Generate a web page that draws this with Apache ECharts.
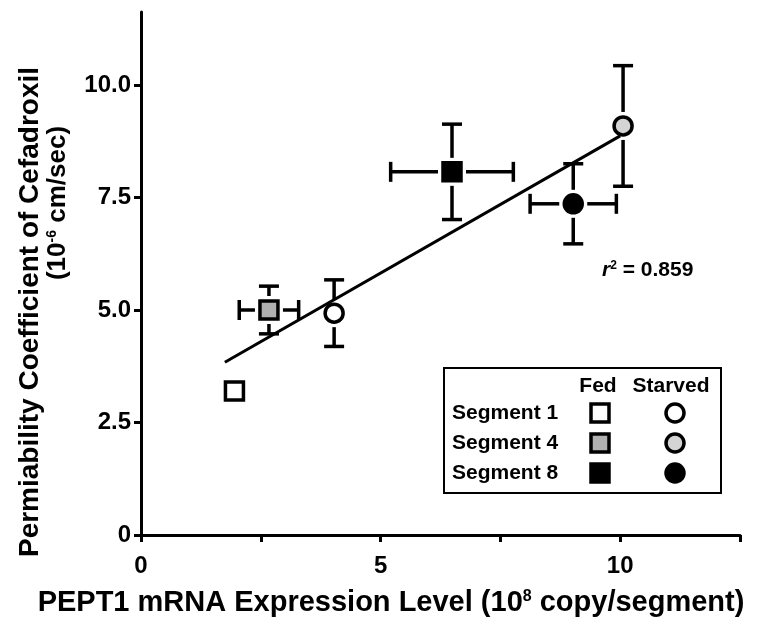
<!DOCTYPE html>
<html><head><meta charset="utf-8">
<script src="https://cdn.jsdelivr.net/npm/echarts@6/dist/echarts.min.js"></script>
<style>html,body{margin:0;padding:0;background:#fff}#c{width:775px;height:619px}</style>
</head><body><div id="c"></div>
<script>
// ---- data ----
const xTickValues = [0, 2.5, 5, 7.5, 10, 12.5];
const xLabelValues = [0, 5, 10];
const yTickValues = [0, 2.5, 5, 7.5, 10];
const yLabelText = ['0', '2.5', '5.0', '7.5', '10.0'];

const groups = ['Segment 1 Fed', 'Segment 1 Starved', 'Segment 4 Fed', 'Segment 4 Starved', 'Segment 8 Fed', 'Segment 8 Starved'];
const mrnaX = [1.95, 4.03, 2.67, 10.06, 6.49, 9.02];
const permY = [3.2, 4.93, 5.0, 9.09, 8.07, 7.36];
const mrnaErr = [0, 0, 0.62, 0, 1.28, 0.9];
const permErr = [0, 0.74, 0.53, 1.34, 1.06, 0.89];
const fitX = [1.75, 10.0];
const fitY = [3.84, 8.87];
const rSquared = '0.859';
const legendRows = ['Segment 1', 'Segment 4', 'Segment 8'];
const legendCols = ['Fed', 'Starved'];

// ---- styles ----
const FONT = '"Liberation Sans", Arial, Helvetica, sans-serif';
const markerStyle = {
  'Segment 1 Fed': { symbol: 'rect', fill: '#ffffff' },
  'Segment 1 Starved': { symbol: 'circle', fill: '#ffffff' },
  'Segment 4 Fed': { symbol: 'rect', fill: '#b0b0b0' },
  'Segment 4 Starved': { symbol: 'circle', fill: '#d4d4d4' },
  'Segment 8 Fed': { symbol: 'rect', fill: '#000000' },
  'Segment 8 Starved': { symbol: 'circle', fill: '#000000' }
};

const chart = echarts.init(document.getElementById('c'), null, { renderer: 'canvas' });

const errData = groups.map((g, i) => [mrnaX[i], permY[i], mrnaErr[i], permErr[i]]);

const scatterSeries = groups.map((g, i) => ({
  name: g,
  type: 'scatter',
  z: 5,
  symbol: markerStyle[g].symbol,
  symbolSize: 18,
  itemStyle: { color: markerStyle[g].fill, borderColor: '#000', borderWidth: 3.5, opacity: 1 },
  data: [[mrnaX[i], permY[i]]]
}));

const option = {
  backgroundColor: '#fff',
  animation: false,
  grid: { left: 141, top: 12, width: 599, height: 523, containLabel: false },
  xAxis: {
    type: 'value', min: 0, max: 12.5, interval: 2.5,
    axisLine: { show: true, onZero: false, lineStyle: { color: '#000', width: 3 } },
    axisTick: { show: true, customValues: xTickValues, length: 7, lineStyle: { color: '#000', width: 3 } },
    axisLabel: { customValues: xLabelValues, margin: 19, color: '#000', fontSize: 24, fontWeight: 'bold', fontFamily: FONT },
    splitLine: { show: false }
  },
  yAxis: {
    type: 'value', min: 0, max: 523 / 45,
    axisLine: { show: true, onZero: false, lineStyle: { color: '#000', width: 3 } },
    axisTick: { show: true, customValues: yTickValues, length: 7, lineStyle: { color: '#000', width: 3 } },
    axisLabel: {
      customValues: yTickValues, margin: 10, color: '#000', fontSize: 24, fontWeight: 'bold', fontFamily: FONT,
      formatter: v => yLabelText[yTickValues.indexOf(v)]
    },
    splitLine: { show: false }
  },
  series: [
    {
      type: 'line', z: 2, symbol: 'none', silent: true,
      lineStyle: { color: '#000', width: 3 },
      data: fitX.map((x, i) => [x, fitY[i]])
    },
    {
      type: 'custom', z: 3, silent: true,
      data: errData,
      renderItem: function (params, api) {
        const x = api.value(0), y = api.value(1), ex = api.value(2), ey = api.value(3);
        const c = api.coord([x, y]);
        const cap = 10, gap = 14;
        const st = { stroke: '#000', lineWidth: 3.5 };
        const ch = [];
        if (ey > 0) {
          const t = api.coord([x, y + ey])[1], b = api.coord([x, y - ey])[1];
          ch.push({ type: 'line', shape: { x1: c[0], y1: t, x2: c[0], y2: c[1] - gap }, style: st });
          ch.push({ type: 'line', shape: { x1: c[0], y1: c[1] + gap, x2: c[0], y2: b }, style: st });
          ch.push({ type: 'line', shape: { x1: c[0] - cap, y1: t, x2: c[0] + cap, y2: t }, style: st });
          ch.push({ type: 'line', shape: { x1: c[0] - cap, y1: b, x2: c[0] + cap, y2: b }, style: st });
        }
        if (ex > 0) {
          const l = api.coord([x - ex, y])[0], r = api.coord([x + ex, y])[0];
          ch.push({ type: 'line', shape: { x1: l, y1: c[1], x2: c[0] - gap, y2: c[1] }, style: st });
          ch.push({ type: 'line', shape: { x1: c[0] + gap, y1: c[1], x2: r, y2: c[1] }, style: st });
          ch.push({ type: 'line', shape: { x1: l, y1: c[1] - cap, x2: l, y2: c[1] + cap }, style: st });
          ch.push({ type: 'line', shape: { x1: r, y1: c[1] - cap, x2: r, y2: c[1] + cap }, style: st });
        }
        return { type: 'group', children: ch };
      }
    }
  ].concat(scatterSeries),
  graphic: []
};

// Titles
const g = option.graphic;
g.push({
  type: 'text', x: 391, y: 603, z: 10,
  style: {
    text: '{a|PEPT1 mRNA Expression Level (10}{s|8}{a| copy/segment)}',
    align: 'center', verticalAlign: 'middle',
    rich: {
      a: { fontSize: 29, fontWeight: 'bold', fontFamily: FONT, fill: '#000' },
      s: { fontSize: 16, fontWeight: 'bold', fontFamily: FONT, fill: '#000', verticalAlign: 'top' }
    }
  }
});
g.push({
  type: 'text', x: 30, y: 312, rotation: Math.PI / 2, z: 10,
  style: { text: 'Permiability Coefficient of Cefadroxil', align: 'center', verticalAlign: 'middle',
    fontSize: 28, fontWeight: 'bold', fontFamily: FONT, fill: '#000' }
});
g.push({
  type: 'text', x: 58, y: 203, rotation: Math.PI / 2, z: 10,
  style: {
    text: '{a|(10}{s|-6}{a| cm/sec)}', align: 'center', verticalAlign: 'middle',
    rich: {
      a: { fontSize: 26, fontWeight: 'bold', fontFamily: FONT, fill: '#000' },
      s: { fontSize: 14, fontWeight: 'bold', fontFamily: FONT, fill: '#000', verticalAlign: 'top' }
    }
  }
});
// r^2 annotation
g.push({
  type: 'text', x: 602, y: 270, z: 10,
  style: {
    text: '{r|r}{s|2}{a| = ' + rSquared + '}', align: 'left', verticalAlign: 'middle',
    rich: {
      r: { fontSize: 21, fontWeight: 'bold', fontStyle: 'italic', fontFamily: FONT, fill: '#000' },
      s: { fontSize: 12, fontWeight: 'bold', fontFamily: FONT, fill: '#000', verticalAlign: 'top' },
      a: { fontSize: 21, fontWeight: 'bold', fontFamily: FONT, fill: '#000' }
    }
  }
});
// Legend box
g.push({ type: 'rect', z: 8, shape: { x: 444, y: 368, width: 277, height: 125 },
  style: { fill: '#fff', stroke: '#000', lineWidth: 2 } });
const colX = [598, 671];
const markX = [600, 675];
legendCols.forEach((t, j) => g.push({ type: 'text', x: colX[j], y: 386, z: 9,
  style: { text: t, align: 'center', verticalAlign: 'middle', fontSize: 21, fontWeight: 'bold', fontFamily: FONT, fill: '#000' } }));
legendRows.forEach((r, i) => {
  const yy = 413 + i * 30;
  g.push({ type: 'text', x: 452, y: yy, z: 9,
    style: { text: r, align: 'left', verticalAlign: 'middle', fontSize: 21, fontWeight: 'bold', fontFamily: FONT, fill: '#000' } });
  legendCols.forEach((c, j) => {
    const st = markerStyle[r + ' ' + c];
    const style = { fill: st.fill, stroke: '#000', lineWidth: 3.5 };
    if (st.symbol === 'rect') {
      g.push({ type: 'rect', z: 9, shape: { x: markX[j] - 9, y: yy - 9, width: 18, height: 18 }, style });
    } else {
      g.push({ type: 'circle', z: 9, shape: { cx: markX[j], cy: yy, r: 9 }, style });
    }
  });
});

chart.setOption(option);
</script>
</body></html>
